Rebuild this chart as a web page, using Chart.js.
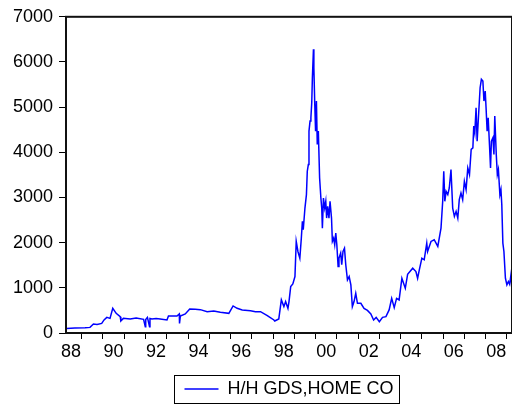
<!DOCTYPE html>
<html>
<head>
<meta charset="utf-8">
<script src="https://cdn.jsdelivr.net/npm/chart.js@4/dist/chart.umd.min.js"></script>
<style>
  html, body { margin: 0; padding: 0; background: #fff; }
  #wrap { width: 512px; height: 408px; }
</style>
</head>
<body>
<div id="wrap"><canvas id="hhChart"></canvas></div>
<script>
// series (decimal year, index level)
const seriesName = "H/H GDS,HOME CO";
const years = [
  1988.29, 1988.68, 1989.16, 1989.39, 1989.55, 1989.72, 1989.94, 1990.05, 1990.18, 1990.33,
  1990.46, 1990.62, 1990.81, 1990.84, 1990.96, 1991.28, 1991.56, 1991.91, 1991.99, 1992.01,
  1992.09, 1992.19, 1992.21, 1992.30, 1992.50, 1992.69, 1993.01, 1993.08, 1993.48, 1993.59,
  1993.60, 1993.64, 1993.87, 1994.08, 1994.34, 1994.58, 1994.90, 1995.21, 1995.52, 1995.92,
  1996.12, 1996.31, 1996.55, 1996.94, 1997.17, 1997.41, 1997.73, 1997.80, 1998.04, 1998.08,
  1998.27, 1998.39, 1998.51, 1998.59, 1998.70, 1998.75, 1998.83, 1998.93, 1999.03, 1999.09,
  1999.17, 1999.26, 1999.33, 1999.38, 1999.42, 1999.50, 1999.57, 1999.61, 1999.66, 1999.69,
  1999.74, 1999.78, 1999.82, 1999.85, 1999.90, 1999.92, 1999.96, 2000.00, 2000.04, 2000.08,
  2000.13, 2000.19, 2000.25, 2000.29, 2000.32, 2000.37, 2000.43, 2000.48, 2000.52, 2000.57,
  2000.63, 2000.68, 2000.75, 2000.79, 2000.85, 2000.90, 2000.95, 2001.00, 2001.06, 2001.10,
  2001.18, 2001.23, 2001.29, 2001.36, 2001.42, 2001.50, 2001.58, 2001.66, 2001.73, 2001.81,
  2001.89, 2001.97, 2002.13, 2002.28, 2002.44, 2002.60, 2002.73, 2002.85, 2003.00, 2003.15,
  2003.31, 2003.46, 2003.58, 2003.70, 2003.81, 2003.93, 2004.06, 2004.22, 2004.33, 2004.57,
  2004.72, 2004.80, 2004.88, 2005.00, 2005.11, 2005.23, 2005.27, 2005.43, 2005.58, 2005.75,
  2005.90, 2005.98, 2006.03, 2006.08, 2006.14, 2006.22, 2006.29, 2006.37, 2006.45, 2006.53,
  2006.61, 2006.69, 2006.76, 2006.84, 2006.92, 2007.00, 2007.08, 2007.16, 2007.24, 2007.32,
  2007.40, 2007.44, 2007.49, 2007.55, 2007.60, 2007.66, 2007.74, 2007.80, 2007.87, 2007.92,
  2007.98, 2008.02, 2008.07, 2008.12, 2008.18, 2008.23, 2008.27, 2008.34, 2008.39, 2008.43,
  2008.50, 2008.55, 2008.60, 2008.67, 2008.72, 2008.76, 2008.81, 2008.86, 2008.93, 2009.00,
  2009.07, 2009.13, 2009.19, 2009.23
];
const values = [
  102, 108, 115, 124, 200, 190, 213, 290, 346, 324,
  546, 435, 362, 266, 324, 311, 330, 302, 140, 300,
  346, 140, 320, 311, 320, 311, 289, 377, 377, 422,
  213, 377, 422, 533, 525, 517, 473, 488, 457, 435,
  599, 546, 511, 495, 473, 473, 384, 362, 289, 266,
  311, 733, 584, 695, 546, 695, 1028, 1088, 1250, 2027,
  1805, 1656, 2100, 2471, 2287, 2766, 3064, 3581, 3730, 4469,
  4691, 4764, 5097, 5652, 6283, 5874, 5097, 4469, 5135, 4174,
  4469, 3432, 2988, 2766, 2322, 2988, 2766, 2915, 2544, 2804,
  2544, 2915, 2544, 2027, 2100, 1954, 2211, 1954, 1472, 1656,
  1767, 1510, 1805, 1878, 1510, 1177, 1250, 1066, 584, 695,
  879, 657, 657, 546, 500, 420, 289, 346, 251, 346,
  362, 511, 768, 562, 768, 733, 1212, 990, 1300, 1434,
  1361, 1212, 1399, 1656, 1621, 1990, 1805, 2027, 2065, 1916,
  2322, 2915, 3581, 2915, 3137, 3064, 3210, 3619, 2766, 2582,
  2693, 2544, 2953, 3099, 2953, 3359, 3175, 3654, 3508, 4063,
  4098, 4580, 4431, 4986, 4247, 4764, 5430, 5617, 5579, 5135,
  5357, 4986, 4469, 4764, 4174, 3654, 4247, 4320, 3952, 4802,
  3952, 3508, 3619, 3064, 3175, 2842, 1990, 1805, 1212, 1066,
  1139, 1079, 1288, 1066
];
const tickYears = [];
for (let y = 1988; y <= 2009; y++) tickYears.push(y);
const yTicks = [0, 1000, 2000, 3000, 4000, 5000, 6000, 7000];

const font = { family: "'Liberation Sans', Arial, sans-serif", size: 18 };

// box round the plot and round the legend, as in the original
const framePlugin = {
  id: "frame",
  afterDraw(chart) {
    const ctx = chart.ctx;
    const a = chart.chartArea;
    ctx.save();
    ctx.strokeStyle = "#111";
    ctx.lineWidth = 2;
    ctx.strokeRect(a.left, a.top, a.right - a.left, a.bottom - a.top);
    const hb = chart.legend.legendHitBoxes[0];
    if (hb) {
      ctx.lineWidth = 1;
      ctx.strokeStyle = "#000";
      const top = Math.round(hb.top + hb.height / 2 - 14) + 0.5;
      ctx.strokeRect(Math.round(hb.left - 10) + 0.5, top, Math.round(hb.width + 16), 28);
    }
    ctx.restore();
  }
};

const ctx = document.getElementById("hhChart").getContext("2d");
new Chart(ctx, {
  type: "line",
  data: {
    datasets: [{
      label: seriesName,
      data: years.map((x, i) => ({ x: x, y: values[i] })),
      borderColor: "#0000ff",
      backgroundColor: "#0000ff",
      borderWidth: 1.5,
      pointRadius: 0,
      tension: 0,
      fill: false
    }]
  },
  options: {
    responsive: true,
    maintainAspectRatio: false,
    animation: false,
    layout: { padding: { top: 6, right: 0, left: 0, bottom: 0 } },
    scales: {
      x: {
        type: "linear",
        min: 1988.26,
        max: 2009.24,
        afterBuildTicks: scale => { scale.ticks = tickYears.map(v => ({ value: v })); },
        afterFit: scale => { scale.height = 34; },
        ticks: {
          autoSkip: false,
          maxRotation: 0,
          color: "#000",
          font: font,
          padding: 2,
          labelOffset: 10.6,
          callback: v => (v % 2 === 0 ? String(v).slice(2) : "")
        },
        grid: {
          drawOnChartArea: false,
          tickLength: 6,
          tickWidth: 1,
          tickColor: c => (c.tick && c.tick.value < 1988.26 ? "rgba(0,0,0,0)" : "#000")
        },
        border: { color: "#111", width: 2 }
      },
      y: {
        min: 0,
        max: 7000,
        afterBuildTicks: scale => { scale.ticks = yTicks.map(v => ({ value: v })); },
        afterFit: scale => { scale.width = 66; },
        ticks: { color: "#000", font: font, padding: 6, callback: v => String(v) },
        grid: { drawOnChartArea: false, tickLength: 7, tickColor: "#000" },
        border: { color: "#111", width: 2 }
      }
    },
    plugins: {
      legend: {
        position: "bottom",
        fullSize: false,
        labels: {
          color: "#000",
          font: font,
          usePointStyle: true,
          pointStyle: "line",
          pointStyleWidth: 34,
          padding: 13
        }
      },
      tooltip: { enabled: false }
    }
  },
  plugins: [framePlugin]
});
</script>
</body>
</html>
